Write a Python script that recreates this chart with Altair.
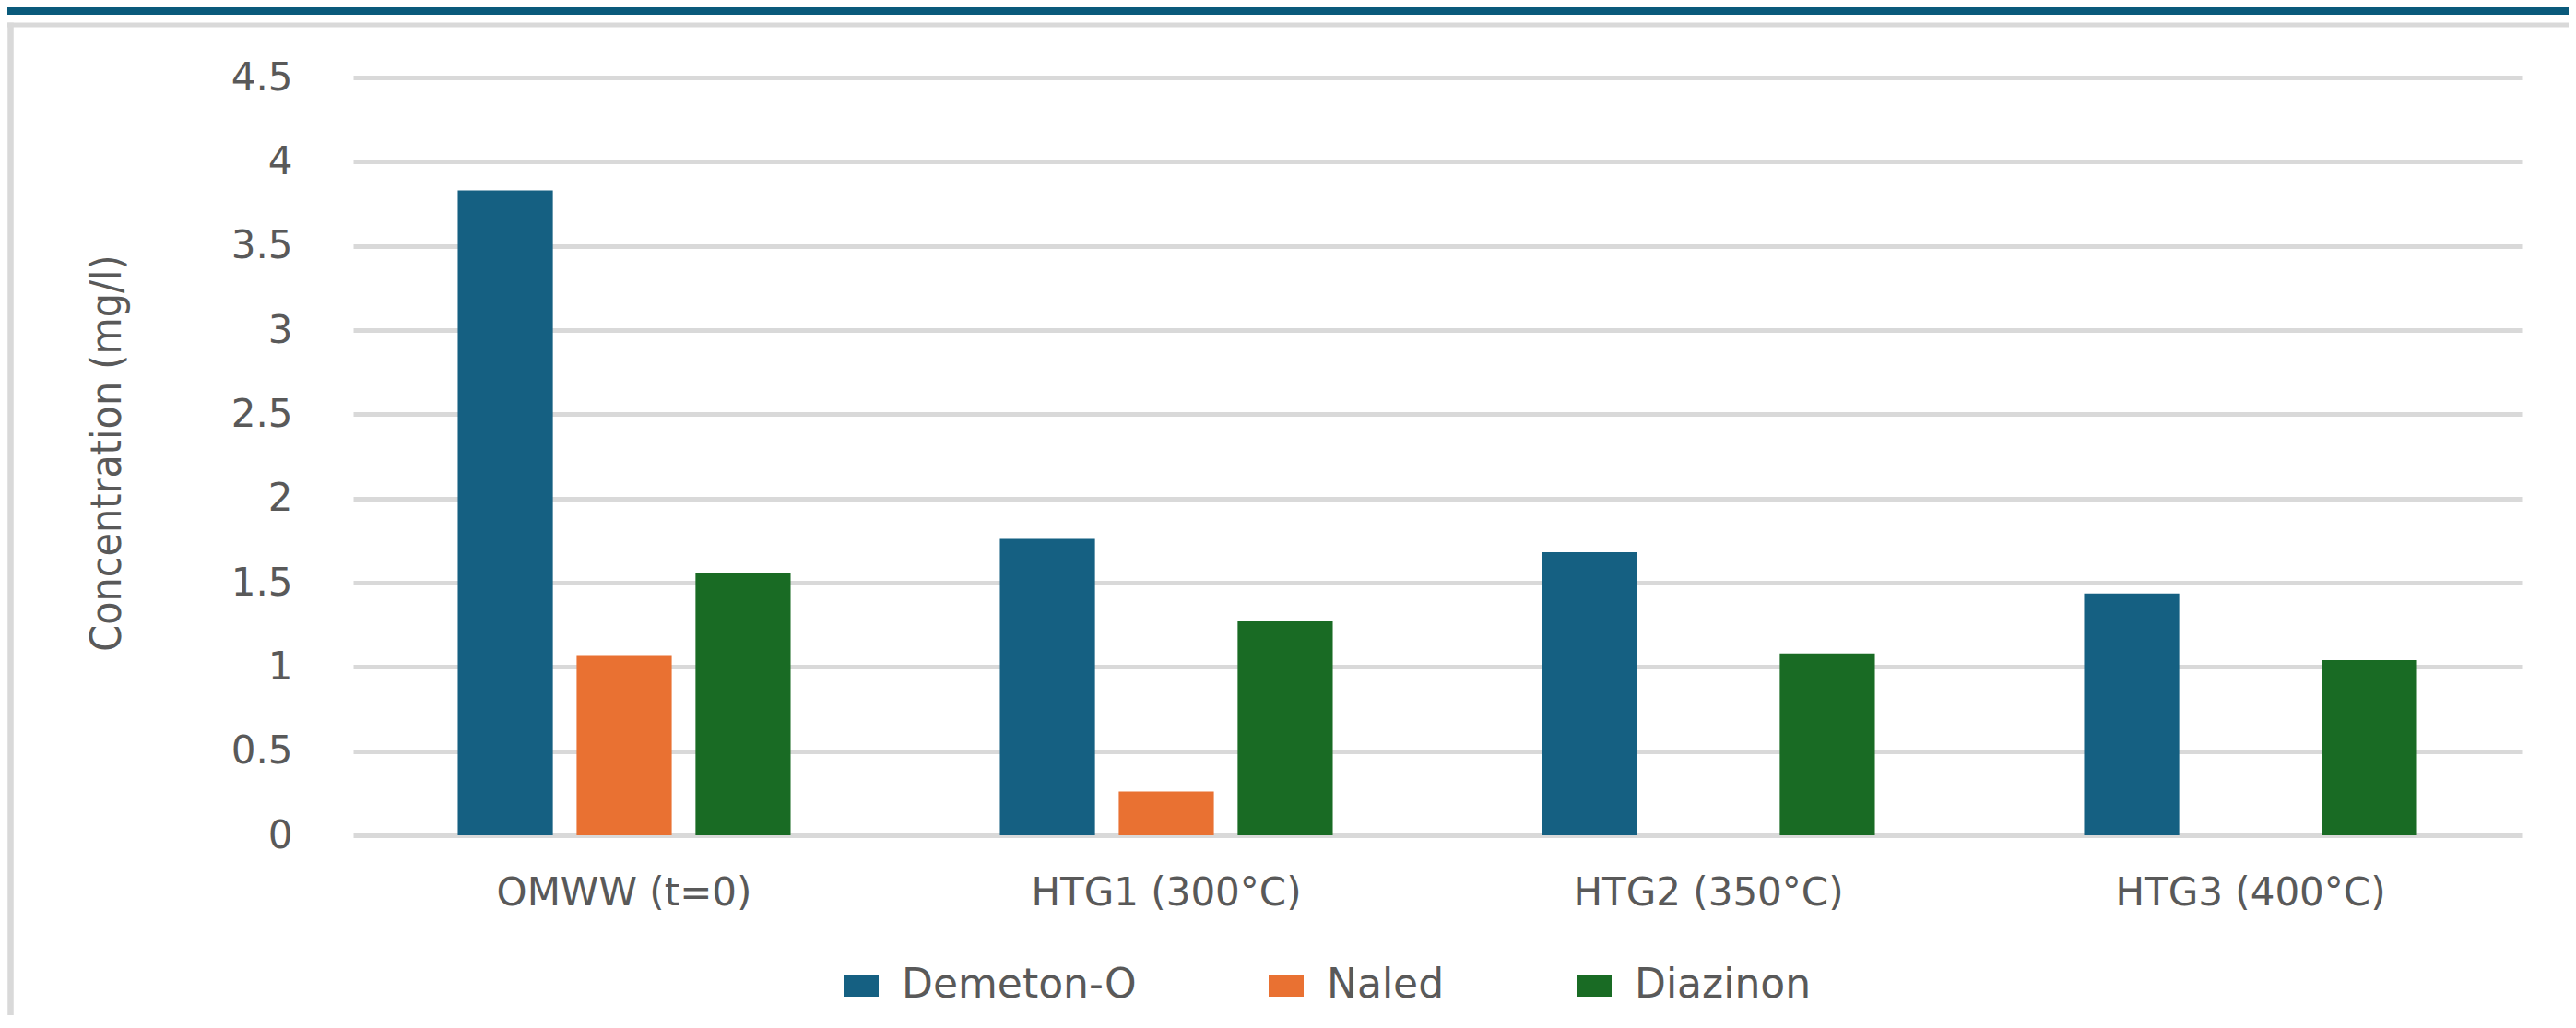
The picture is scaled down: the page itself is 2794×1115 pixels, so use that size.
import altair as alt
import pandas as pd

# ---- data ----
groups = ["OMWW (t=0)", "HTG1 (300°C)", "HTG2 (350°C)", "HTG3 (400°C)"]
series = ["Demeton-O", "Naled", "Diazinon"]
demeton = [3.83, 1.76, 1.68, 1.435]
naled = [1.07, 0.26, None, None]
diazinon = [1.555, 1.27, 1.08, 1.04]
colors = ["#156082", "#E97132", "#196B24"]
y_ticks = [0, 0.5, 1, 1.5, 2, 2.5, 3, 3.5, 4, 4.5]

rows = []
for i, g in enumerate(groups):
    for s, vals in zip(series, [demeton, naled, diazinon]):
        if vals[i] is not None:
            rows.append({"group": g, "series": s, "value": vals[i]})
df = pd.DataFrame(rows)

W, H = 2352, 822
TEXT = "#595959"
GRID = "#D9D9D9"

bars = alt.Chart(df).mark_bar().encode(
    x=alt.X(
        "group:N",
        sort=groups,
        scale=alt.Scale(domain=groups, paddingInner=0, paddingOuter=0),
        axis=alt.Axis(
            title=None, labelAngle=0, labelFont="DejaVu Sans", labelFontSize=42,
            labelColor=TEXT, labelPadding=42, ticks=False, domain=False,
            grid=False, labelLimit=1000,
        ),
    ),
    xOffset=alt.XOffset(
        "series:N", sort=series,
        scale=alt.Scale(domain=series, paddingInner=0.2, paddingOuter=0.88),
    ),
    y=alt.Y(
        "value:Q",
        scale=alt.Scale(domain=[0, 4.5], nice=False),
        axis=alt.Axis(
            values=y_ticks, format="~g", title="Concentration (mg/l)",
            titleFont="Liberation Sans Narrow, DejaVu Sans Condensed, Liberation Sans",
            titleFontSize=46, titleFontWeight="normal", titleColor=TEXT,
            titleAngle=270, titleX=-267, titleY=H / 2 - 4, titleAlign="center",
            titleBaseline="middle",
            labelFont="DejaVu Sans", labelFontSize=42, labelColor=TEXT,
            labelPadding=66, ticks=False, domain=False,
            gridColor=GRID, gridWidth=5, gridOpacity=1,
        ),
    ),
    color=alt.Color(
        "series:N", sort=series,
        scale=alt.Scale(domain=series, range=colors),
        legend=alt.Legend(
            title=None, orient="none", legendX=529, legendY=963,
            direction="horizontal",
            symbolType="M-1,-0.632H1V0.632H-1Z", symbolSize=1444,
            symbolStrokeWidth=0, symbolOpacity=1,
            labelFont="DejaVu Sans", labelFontSize=44, labelColor=TEXT,
            labelOffset=22, columnPadding=140, labelLimit=1000,
        ),
    ),
)

deco = alt.Chart(pd.DataFrame({"k": [0]}))
top_bar = deco.mark_rect(color="#0A5A7B").encode(
    x=alt.value(-375), x2=alt.value(2403), y=alt.value(-76), y2=alt.value(-68)
)
frame_h = deco.mark_rule(color=GRID, strokeWidth=5).encode(
    x=alt.value(-375), x2=alt.value(2403), y=alt.value(-57)
)
frame_v = deco.mark_rule(color=GRID, strokeWidth=6.5).encode(
    x=alt.value(-371.5), y=alt.value(-59.5), y2=alt.value(1100)
)

chart = alt.layer(top_bar, frame_h, frame_v, bars).properties(
    width=W, height=H,
    autosize=alt.AutoSizeParams(type="none"),
    padding={"left": 375, "top": 76, "right": 51, "bottom": 195},
    background="white",
).configure_view(stroke=None)

chart.save("out.html", embed_options={"renderer": "svg", "actions": False})
